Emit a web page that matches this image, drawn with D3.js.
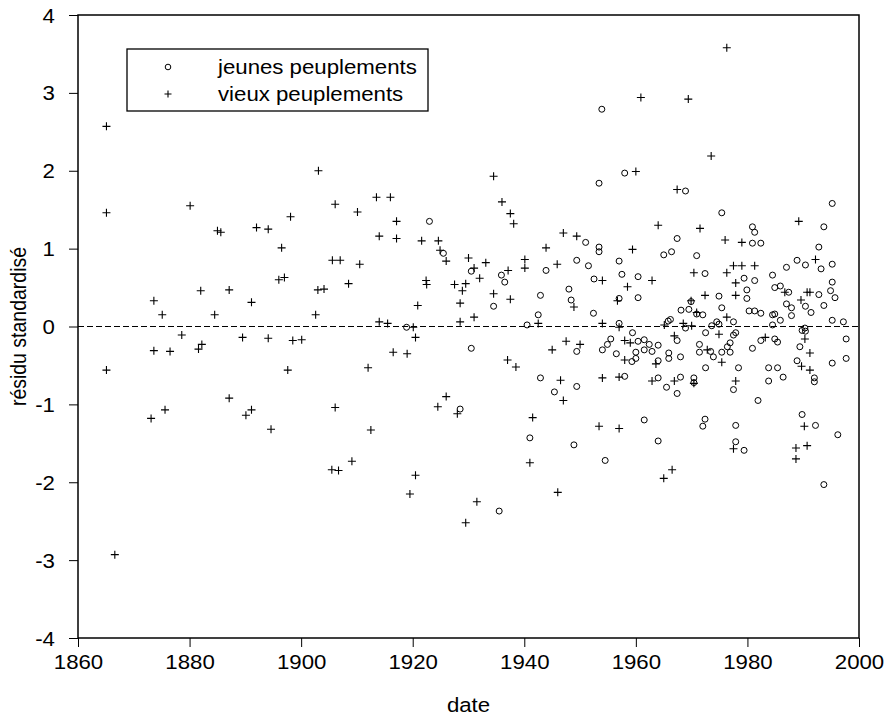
<!DOCTYPE html>
<html><head><meta charset="utf-8">
<script src="https://cdn.jsdelivr.net/npm/d3@7"></script>
<style>
body{margin:0;background:#fff;}
text{font-family:"Liberation Sans",Arial,sans-serif;fill:#000;}
</style></head>
<body><svg id="chart" width="888" height="721"></svg>
<script>
// --- data ---
const xTicks = [1860, 1880, 1900, 1920, 1940, 1960, 1980, 2000];
const yTicks = [-4, -3, -2, -1, 0, 1, 2, 3, 4];
const seriesNames = ["jeunes peuplements", "vieux peuplements"];
const xLabel = "date";
const yLabel = "résidu standardisé";

// jeunes peuplements (circles): [date, residual]
const jeunes = [
[1918.9,-0.01],[1923.0,1.35],[1925.5,0.94],[1930.5,0.71],[1935.9,0.66],[1936.5,0.57],[1934.5,0.26],
[1940.5,0.02],[1942.5,0.15],[1942.9,0.40],[1943.9,0.72],[1949.4,0.85],[1948.0,0.48],[1948.4,0.34],
[1930.5,-0.28],[1949.4,-0.32],[1942.9,-0.66],[1949.4,-0.77],[1945.4,-0.84],[1928.5,-1.06],[1941.0,-1.43],
[1948.9,-1.52],[1935.5,-2.37],[1953.9,2.79],[1958.0,1.97],[1953.4,1.84],[1968.9,1.74],[1975.4,1.46],
[1951.0,1.08],[1953.4,1.02],[1953.4,0.96],[1967.4,1.13],[1965.0,0.92],[1966.4,0.96],[1970.9,0.91],
[1951.5,0.78],[1957.0,0.84],[1957.5,0.67],[1960.4,0.64],[1952.5,0.61],[1972.4,0.68],[1957.0,0.36],
[1960.4,0.37],[1952.4,0.17],[1974.9,0.39],[1975.4,0.24],[1969.9,0.32],[1968.1,0.21],[1969.5,0.22],
[1970.9,0.16],[1972.0,0.15],[1966.2,0.09],[1965.8,0.07],[1973.6,0.01],[1974.5,0.06],[1974.9,0.03],
[1957.0,0.04],[1968.9,-0.02],[1972.5,-0.08],[1954.0,-0.30],[1954.9,-0.23],[1955.5,-0.16],[1956.5,-0.35],
[1959.4,-0.08],[1960.4,-0.19],[1961.5,-0.17],[1962.4,-0.23],[1964.0,-0.24],[1961.5,-0.30],[1962.9,-0.32],
[1960.0,-0.33],[1960.0,-0.41],[1959.3,-0.45],[1964.0,-0.44],[1965.9,-0.34],[1965.9,-0.41],[1967.4,-0.18],
[1968.0,-0.39],[1971.4,-0.23],[1971.4,-0.33],[1973.4,-0.32],[1973.9,-0.39],[1972.5,-0.53],[1975.4,-0.33],
[1958.0,-0.64],[1964.0,-0.66],[1965.5,-0.78],[1968.0,-0.65],[1967.4,-0.86],[1970.4,-0.66],[1970.4,-0.72],
[1954.5,-1.72],[1961.5,-1.20],[1964.0,-1.47],[1972.4,-1.19],[1972.0,-1.28],[1995.2,1.58],[1993.7,1.28],
[1980.9,1.28],[1981.3,1.21],[1980.9,1.07],[1982.4,1.07],[1992.8,1.02],[1988.9,0.85],[1990.4,0.79],
[1993.2,0.74],[1995.2,0.80],[1987.0,0.76],[1979.4,0.62],[1981.3,0.59],[1984.5,0.66],[1984.9,0.50],
[1985.9,0.52],[1987.4,0.44],[1979.9,0.47],[1979.9,0.36],[1992.8,0.41],[1995.2,0.57],[1994.9,0.46],
[1995.7,0.37],[1993.7,0.27],[1990.4,0.26],[1991.4,0.18],[1987.0,0.29],[1987.9,0.24],[1987.9,0.14],
[1980.3,0.20],[1981.3,0.20],[1982.4,0.17],[1984.5,0.15],[1984.9,0.16],[1984.5,0.02],[1985.9,0.08],
[1977.5,0.06],[1995.2,0.08],[1997.2,0.06],[1990.3,-0.02],[1989.8,-0.05],[1990.4,-0.06],[1977.5,-0.11],
[1977.9,-0.08],[1976.9,-0.21],[1976.4,-0.26],[1976.9,-0.33],[1982.4,-0.18],[1980.9,-0.28],[1984.9,-0.16],
[1985.4,-0.20],[1989.4,-0.26],[1997.7,-0.16],[1997.7,-0.41],[1995.2,-0.47],[1978.4,-0.53],[1977.5,-0.81],
[1983.8,-0.53],[1985.4,-0.53],[1983.8,-0.70],[1986.4,-0.65],[1988.9,-0.44],[1992.0,-0.66],[1992.0,-0.71],
[1981.9,-0.95],[1977.9,-1.27],[1989.8,-1.13],[1992.2,-1.27],[1996.2,-1.39],[1977.9,-1.48],[1979.4,-1.59],
[1993.7,-2.03]
];

// vieux peuplements (plus signs): [date, residual]
const vieux = [
[1865.1,2.57],[1865.1,1.46],[1880.1,1.55],[1885.0,1.23],[1885.6,1.21],[1882.0,0.46],[1887.1,0.47],
[1873.6,0.33],[1875.1,0.15],[1884.5,0.15],[1891.1,0.31],[1878.6,-0.11],[1873.6,-0.31],[1876.5,-0.32],
[1881.6,-0.29],[1882.2,-0.23],[1889.5,-0.14],[1865.1,-0.56],[1887.1,-0.92],[1875.6,-1.07],[1873.1,-1.18],
[1890.1,-1.14],[1891.1,-1.07],[1866.6,-2.93],[1903.1,2.00],[1913.5,1.66],[1916.0,1.66],[1906.1,1.57],
[1910.1,1.47],[1917.1,1.35],[1898.1,1.41],[1892.0,1.27],[1894.1,1.25],[1914.0,1.16],[1917.1,1.13],
[1921.6,1.10],[1896.5,1.01],[1905.6,0.85],[1907.0,0.85],[1910.5,0.80],[1896.0,0.60],[1897.0,0.63],
[1908.5,0.55],[1903.0,0.47],[1904.1,0.48],[1902.6,0.15],[1920.9,0.27],[1914.0,0.06],[1915.5,0.04],
[1920.1,-0.01],[1894.1,-0.15],[1898.5,-0.18],[1900.1,-0.17],[1920.5,-0.14],[1916.5,-0.33],[1919.0,-0.35],
[1897.6,-0.56],[1912.0,-0.53],[1906.1,-1.04],[1894.6,-1.32],[1912.5,-1.33],[1909.1,-1.73],[1905.5,-1.84],
[1906.7,-1.85],[1920.5,-1.91],[1919.5,-2.15],[1934.5,1.93],[1936.0,1.60],[1937.5,1.45],[1938.1,1.32],
[1924.6,1.10],[1924.9,0.98],[1926.0,0.84],[1930.0,0.88],[1933.1,0.82],[1931.0,0.75],[1932.0,0.62],
[1940.1,0.86],[1940.1,0.75],[1937.1,0.72],[1922.4,0.59],[1922.5,0.54],[1927.5,0.54],[1929.5,0.55],
[1928.9,0.46],[1928.5,0.30],[1934.5,0.42],[1937.5,0.35],[1931.0,0.12],[1928.5,0.06],[1942.5,0.04],
[1943.9,1.01],[1945.9,0.80],[1947.0,1.20],[1949.4,1.16],[1948.9,0.25],[1937.0,-0.43],[1938.5,-0.52],
[1945.0,-0.30],[1947.5,-0.19],[1946.5,-0.69],[1947.0,-0.95],[1926.0,-0.90],[1924.5,-1.03],[1928.0,-1.12],
[1941.5,-1.17],[1941.0,-1.75],[1931.5,-2.25],[1929.5,-2.52],[1946.0,-2.13],[1976.3,3.58],[1960.9,2.94],
[1969.4,2.92],[1973.5,2.19],[1960.0,1.99],[1967.4,1.76],[1964.0,1.30],[1971.5,1.26],[1976.0,1.11],
[1959.4,0.99],[1962.9,0.59],[1954.0,0.59],[1958.5,0.51],[1970.4,0.69],[1976.3,0.69],[1956.7,0.33],
[1972.4,0.40],[1976.3,0.12],[1969.9,0.33],[1970.9,0.18],[1965.1,0.02],[1954.0,0.04],[1968.5,0.04],
[1970.0,0.01],[1957.0,-0.01],[1974.9,-0.10],[1950.0,-0.23],[1958.0,-0.18],[1959.0,-0.21],[1958.0,-0.43],
[1963.6,-0.48],[1966.9,-0.12],[1972.8,-0.30],[1975.4,-0.46],[1954.0,-0.66],[1957.0,-0.65],[1962.9,-0.70],
[1966.9,-0.70],[1970.4,-0.73],[1953.4,-1.28],[1957.0,-1.31],[1966.5,-1.84],[1965.0,-1.95],[1989.2,1.35],
[1979.0,1.08],[1992.2,0.86],[1977.5,0.78],[1979.0,0.78],[1981.3,0.78],[1977.9,0.56],[1986.7,0.44],
[1977.9,0.40],[1990.7,0.44],[1991.2,0.44],[1989.6,0.34],[1983.2,-0.14],[1990.3,-0.16],[1991.2,-0.34],
[1977.9,-0.70],[1989.7,-0.51],[1991.2,-0.56],[1990.2,-1.28],[1977.5,-1.57],[1988.7,-1.56],[1988.7,-1.70],
[1990.7,-1.53]
];

// --- drawing ---
const svg = d3.select("#chart");
const pL = 78, pR = 859, pT = 15, pB = 638;
const x = d3.scaleLinear().domain([1860, 2000]).range([pL, pR]);
const y = d3.scaleLinear().domain([-4, 4]).range([pB, pT]);
const fs = 19.5;
const sx = 1.14; // horizontal glyph stretch seen in the reference

// axes
const xAxis = svg.append("g").attr("transform", `translate(0,${pB})`)
  .call(d3.axisBottom(x).tickValues(xTicks).tickFormat(d3.format("d")).tickSize(9).tickPadding(8));
const yAxis = svg.append("g").attr("transform", `translate(${pL},0)`)
  .call(d3.axisLeft(y).tickValues(yTicks).tickFormat(d => d < 0 ? "-" + Math.abs(d) : String(d)).tickSize(9).tickPadding(11.2));
[xAxis, yAxis].forEach(g => {
  g.select(".domain").remove();
  g.selectAll(".tick line").attr("stroke", "#000").attr("stroke-width", 1);
  g.selectAll(".tick text").attr("font-size", fs).attr("font-family", "Liberation Sans, Arial, sans-serif")
    .attr("fill", "#000").attr("transform", `scale(${sx},1)`);
});
yAxis.selectAll(".tick text").attr("dy", "0.36em");

// zero reference line
svg.append("line").attr("x1", pL).attr("x2", pR).attr("y1", y(0)).attr("y2", y(0))
  .attr("stroke", "#000").attr("stroke-width", 1).attr("stroke-dasharray", "6,3");

// frame
svg.append("rect").attr("x", pL).attr("y", pT).attr("width", pR - pL).attr("height", pB - pT)
  .attr("fill", "none").attr("stroke", "#000").attr("stroke-width", 1.5);

// points
const crossPath = "M-4,0H4M0,-4V4";
svg.append("g").selectAll("circle").data(jeunes).join("circle")
  .attr("cx", d => x(d[0])).attr("cy", d => y(d[1])).attr("r", 3)
  .attr("fill", "none").attr("stroke", "#000").attr("stroke-width", 1);
svg.append("g").selectAll("path").data(vieux).join("path")
  .attr("transform", d => `translate(${x(d[0])},${y(d[1])})`).attr("d", crossPath)
  .attr("fill", "none").attr("stroke", "#000").attr("stroke-width", 1.1);

// axis titles
svg.append("text").attr("transform", `translate(${(pL + pR) / 2},712) scale(${sx},1)`).attr("text-anchor", "middle")
  .attr("font-size", fs).text(xLabel);
svg.append("text").attr("transform", `translate(26,${(pT + pB) / 2}) rotate(-90) scale(1,${sx})`)
  .attr("text-anchor", "middle").attr("font-size", fs).text(yLabel);

// legend
const lg = svg.append("g");
lg.append("rect").attr("x", 127).attr("y", 49).attr("width", 301).attr("height", 62)
  .attr("fill", "#fff").attr("stroke", "#000").attr("stroke-width", 1.3);
lg.append("circle").attr("cx", 168).attr("cy", 67).attr("r", 2.8).attr("fill", "none").attr("stroke", "#000");
lg.append("path").attr("transform", "translate(168,94)").attr("d", "M-3.5,0H3.5M0,-3.5V3.5").attr("stroke", "#000").attr("stroke-width", 1.1);
lg.selectAll("text.lt").data(seriesNames).join("text").attr("class", "lt")
  .attr("transform", (d, i) => `translate(218,${67 + i * 27}) scale(${sx},1)`).attr("dy", "0.35em")
  .attr("font-size", fs).text(d => d);
</script></body></html>
